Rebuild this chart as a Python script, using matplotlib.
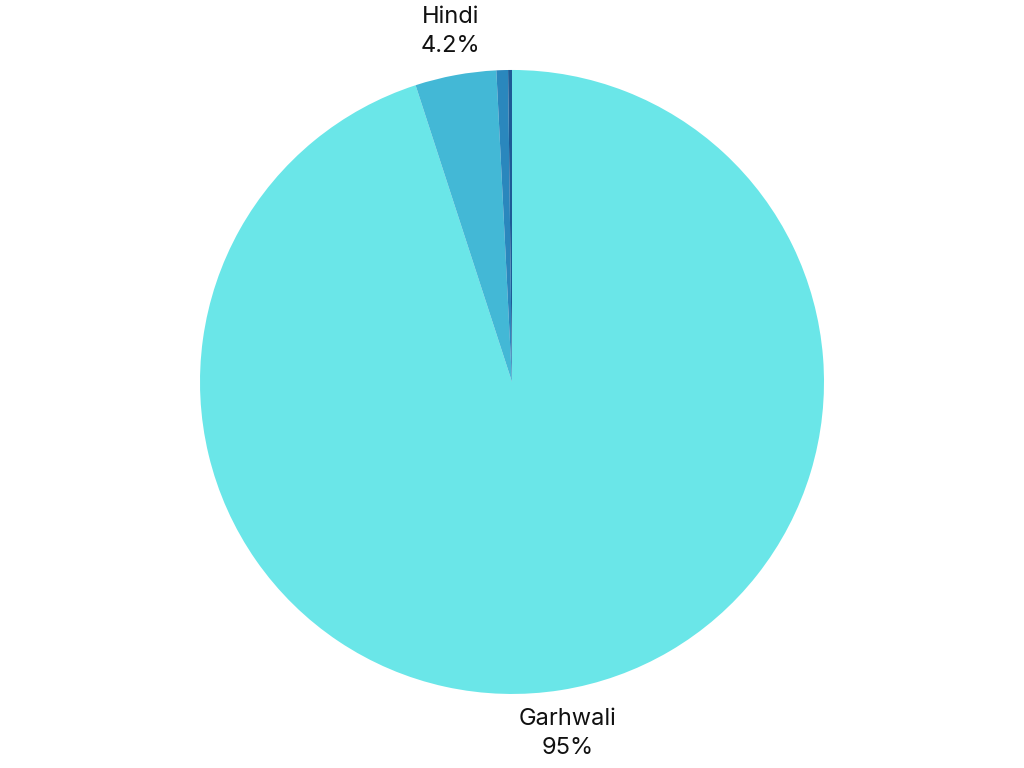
import matplotlib.pyplot as plt
import numpy as np

languages = ["Garhwali", "Hindi", "Other", "Other2"]
shares = [95.0, 4.2, 0.6, 0.2]
label_text = ["Garhwali\n95%", "Hindi\n4.2%", "", ""]
colors = ["#6ae6e8", "#43b8d6", "#2a87bd", "#1d5b96"]

plt.rcParams['font.family'] = ['Inter', 'DejaVu Sans']

fig = plt.figure(figsize=(10.24, 7.68), dpi=100)
ax = fig.add_axes([0.1953, 0.0964, 0.6094, 0.8125])

wedges, _ = ax.pie(shares, colors=colors, startangle=90, counterclock=False,
                   wedgeprops=dict(linewidth=0))
ax.set_aspect('equal')

# label placement: Garhwali at wedge middle, Hindi nudged towards the top
for i, w in enumerate(wedges):
    if not label_text[i]:
        continue
    mid = np.deg2rad((w.theta1 + w.theta2) / 2)
    if languages[i] == "Hindi":
        mid = np.deg2rad(100)
    r = 1.14
    ax.text(r * np.cos(mid), r * np.sin(mid), label_text[i], ha='center', va='center',
            fontsize=17, color='#111111', linespacing=1.4)

ax.set_xlim(-1, 1)
ax.set_ylim(-1, 1)
fig.savefig("out.png", dpi=100)
